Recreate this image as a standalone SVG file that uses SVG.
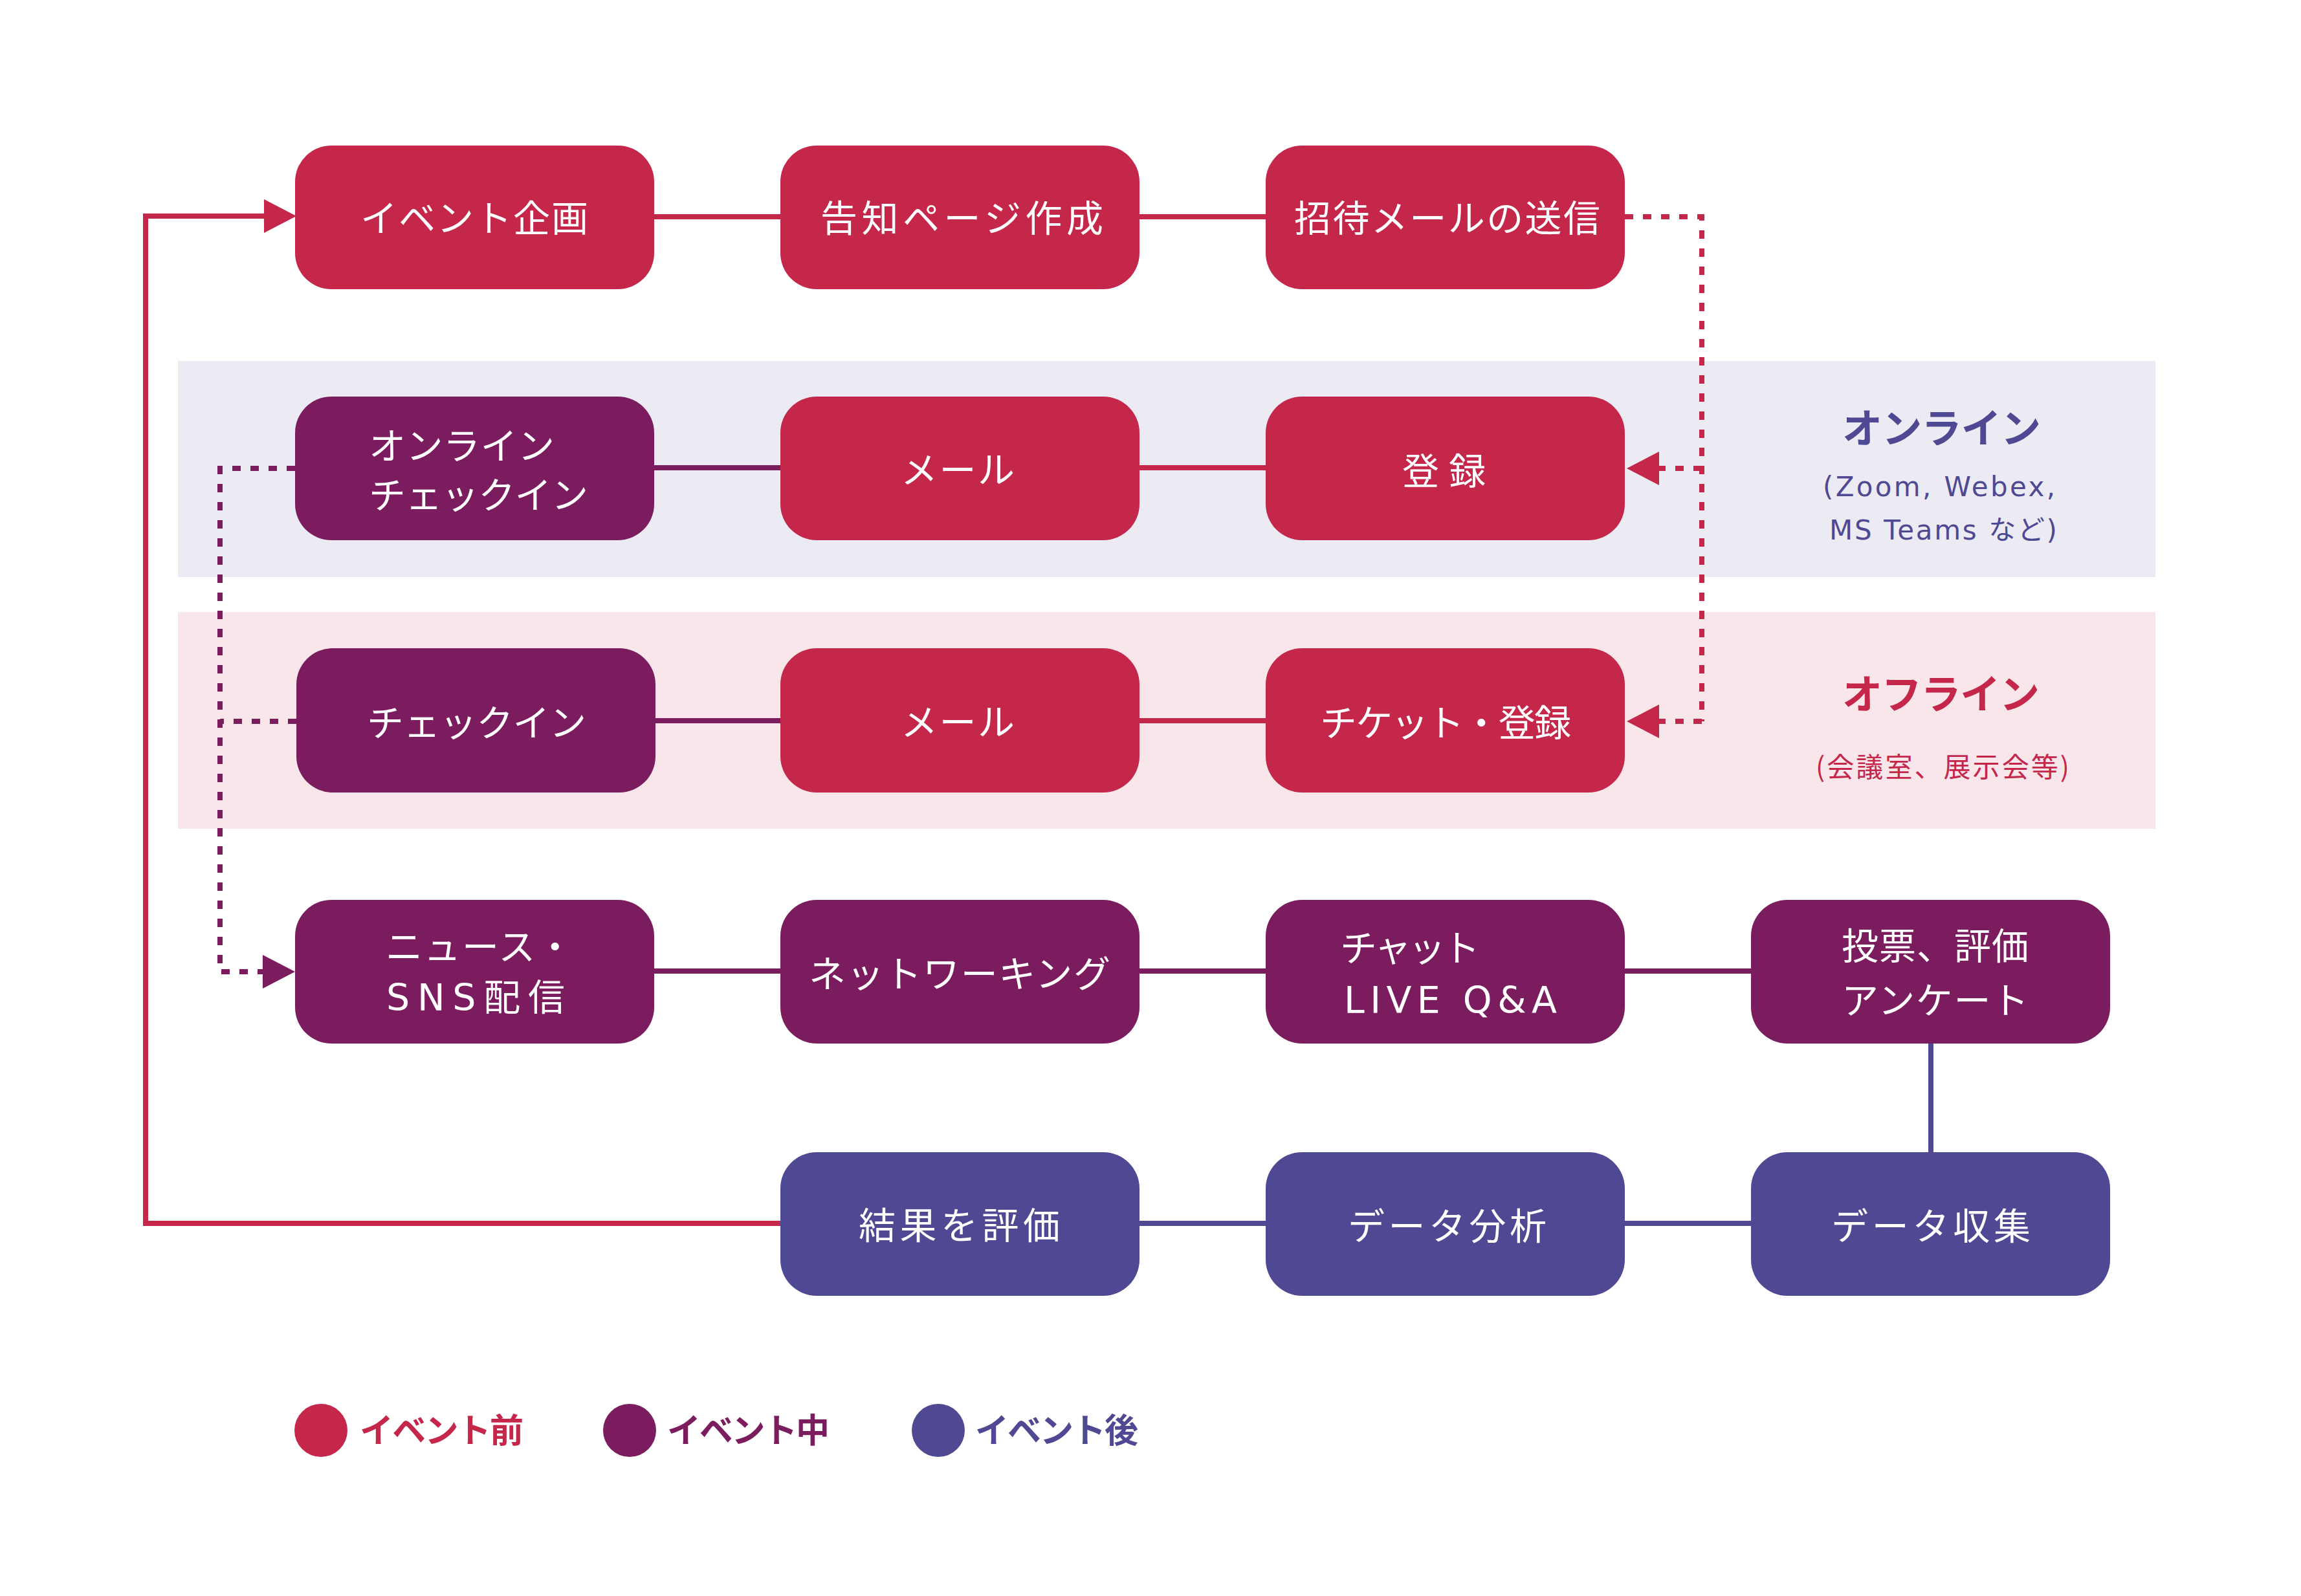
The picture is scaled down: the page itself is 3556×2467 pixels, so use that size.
<svg xmlns="http://www.w3.org/2000/svg" width="3556" height="2467" viewBox="0 0 3556 2467">
<defs>
<style>
.t{font-family:"Noto Sans CJK JP","Noto Sans",sans-serif;font-size:57px;fill:#ffffff}
.tl{font-family:"DejaVu Sans","Noto Sans CJK JP",sans-serif;font-size:57px;fill:#ffffff}
.lb{font-family:"Noto Sans CJK JP","Noto Sans",sans-serif;font-weight:bold}
.sub{font-family:"Noto Sans CJK JP","Noto Sans",sans-serif}
.subl{font-family:"DejaVu Sans","Noto Sans CJK JP",sans-serif}
.red{fill:#C4274A}
.pur{fill:#7B1C5E}
.ind{fill:#4F4893}
.cr{stroke:#C4274A}
.cp{stroke:#7B1C5E}
.ci{stroke:#4F4893}
.ln{fill:none;stroke-width:8}
.dot{fill:none;stroke-width:8;stroke-dasharray:13 15}
</style>
<marker id="ar" viewBox="0 0 50 52" refX="0" refY="26" markerWidth="50" markerHeight="52" markerUnits="userSpaceOnUse" orient="auto"><path d="M0,0 L50,26 L0,52 Z" fill="#C4274A"/></marker>
<marker id="ap" viewBox="0 0 50 52" refX="0" refY="26" markerWidth="50" markerHeight="52" markerUnits="userSpaceOnUse" orient="auto"><path d="M0,0 L50,26 L0,52 Z" fill="#7B1C5E"/></marker>
</defs>
<rect width="3556" height="2467" fill="#ffffff"/>
<g id="bands">
<rect x="275" y="558" width="3056" height="334" fill="#ECEBF4"/>
<rect x="275" y="946" width="3056" height="335" fill="#F9E6EA"/>
</g>
<g id="connectors">
<path class="ln cr" d="M1011,335 H1206 M1761,335 H1956"/>
<path class="ln cp" d="M1011,723 H1206"/>
<path class="ln cr" d="M1761,723 H1956"/>
<path class="ln cp" d="M1013,1114 H1206"/>
<path class="ln cr" d="M1761,1114 H1956"/>
<path class="ln cp" d="M1011,1501 H1206 M1761,1501 H1956 M2511,1501 H2706"/>
<path class="ln ci" d="M2984,1613 V1781 M1761,1891 H1956 M2511,1891 H2706"/>
<path class="ln cr" d="M1206,1891 H225 V334 H408" marker-end="url(#ar)"/>
<path class="dot cr" d="M2511,335 H2630 V1115"/>
<path class="dot cr" d="M2630,724 H2564" marker-end="url(#ar)"/>
<path class="dot cr" d="M2630,1115 H2564" marker-end="url(#ar)"/>
<path class="dot cp" d="M456,724 H340 V1502 H406" marker-end="url(#ap)"/>
<path class="dot cp" d="M458,1115 H340"/>
</g>
<g id="n-plan"><rect class="red" x="456" y="225" width="555" height="222" rx="56"/><text class="t" x="557" y="358" textLength="352" lengthAdjust="spacing">イベント企画</text></g>
<g id="n-page"><rect class="red" x="1206" y="225" width="555" height="222" rx="56"/><text class="t" x="1268" y="358" textLength="437" lengthAdjust="spacing">告知ページ作成</text></g>
<g id="n-invite"><rect class="red" x="1956" y="225" width="555" height="222" rx="56"/><text class="t" x="2000" y="358" textLength="473" lengthAdjust="spacing">招待メールの送信</text></g>
<g id="n-online-checkin"><rect class="pur" x="456" y="613" width="555" height="222" rx="56"/><text class="t" x="570" y="710" font-size="52" textLength="287" lengthAdjust="spacing">オンライン</text><text class="t" x="570" y="786" font-size="52" textLength="339" lengthAdjust="spacing">チェックイン</text></g>
<g id="n-mail-online"><rect class="red" x="1206" y="613" width="555" height="222" rx="56"/><text class="t" x="1392" y="747" textLength="176" lengthAdjust="spacing">メール</text></g>
<g id="n-register"><rect class="red" x="1956" y="613" width="555" height="222" rx="56"/><text class="t" x="2167" y="749" textLength="129" lengthAdjust="spacing">登録</text></g>
<g id="n-checkin"><rect class="pur" x="458" y="1002" width="555" height="223" rx="56"/><text class="t" x="567" y="1138" textLength="339" lengthAdjust="spacing">チェックイン</text></g>
<g id="n-mail-offline"><rect class="red" x="1206" y="1002" width="555" height="223" rx="56"/><text class="t" x="1392" y="1137" textLength="176" lengthAdjust="spacing">メール</text></g>
<g id="n-ticket"><rect class="red" x="1956" y="1002" width="555" height="223" rx="56"/><text class="t" x="2040" y="1138" textLength="388" lengthAdjust="spacing">チケット・登録</text></g>
<g id="n-news"><rect class="pur" x="456" y="1391" width="555" height="222" rx="56"/><text class="t" x="596" y="1484" letter-spacing="2">ニュース・</text><text class="tl" x="597" y="1562" textLength="276" lengthAdjust="spacing">SNS配信</text></g>
<g id="n-network"><rect class="pur" x="1206" y="1391" width="555" height="222" rx="56"/><text class="t" x="1250" y="1526" textLength="466" lengthAdjust="spacing">ネットワーキング</text></g>
<g id="n-chat"><rect class="pur" x="1956" y="1391" width="555" height="222" rx="56"/><text class="t" x="2071" y="1486" textLength="216" lengthAdjust="spacing">チャット</text><text class="tl" x="2077" y="1566" font-size="60" textLength="329" lengthAdjust="spacing">LIVE Q&amp;A</text></g>
<g id="n-vote"><rect class="pur" x="2706" y="1391" width="555" height="222" rx="56"/><text class="t" x="2846" y="1483" textLength="289" lengthAdjust="spacing">投票、評価</text><text class="t" x="2846" y="1567" textLength="289" lengthAdjust="spacing">アンケート</text></g>
<g id="n-evaluate"><rect class="ind" x="1206" y="1781" width="555" height="222" rx="56"/><text class="t" x="1327" y="1915" textLength="311" lengthAdjust="spacing">結果を評価</text></g>
<g id="n-analyze"><rect class="ind" x="1956" y="1781" width="555" height="222" rx="56"/><text class="t" x="2083" y="1916" textLength="307" lengthAdjust="spacing">データ分析</text></g>
<g id="n-collect"><rect class="ind" x="2706" y="1781" width="555" height="222" rx="56"/><text class="t" x="2830" y="1916" textLength="308" lengthAdjust="spacing">データ収集</text></g>
<g id="label-online">
<text class="lb ind" x="2847" y="685" font-size="62" textLength="307" lengthAdjust="spacing">オンライン</text>
<text class="subl ind" x="2817" y="767" font-size="42" textLength="359" lengthAdjust="spacing">(Zoom, Webex,</text>
<text class="subl ind" x="2827" y="834" font-size="42" textLength="352" lengthAdjust="spacing">MS Teams など)</text>
</g>
<g id="label-offline">
<text class="lb red" x="2847" y="1096" font-size="62" textLength="305" lengthAdjust="spacing">オフライン</text>
<text class="sub red" x="2806" y="1201" font-size="42" textLength="392" lengthAdjust="spacing">(会議室、展示会等)</text>
</g>
<g id="legend">
<circle class="red" cx="496" cy="2211" r="41"/>
<text class="lb red" x="556" y="2230" font-size="52" textLength="253" lengthAdjust="spacing">イベント前</text>
<circle class="pur" cx="973" cy="2211" r="41"/>
<text class="lb pur" x="1031" y="2230" font-size="52" textLength="251" lengthAdjust="spacing">イベント中</text>
<circle class="ind" cx="1450" cy="2211" r="41"/>
<text class="lb ind" x="1507" y="2230" font-size="52" textLength="252" lengthAdjust="spacing">イベント後</text>
</g>
</svg>
